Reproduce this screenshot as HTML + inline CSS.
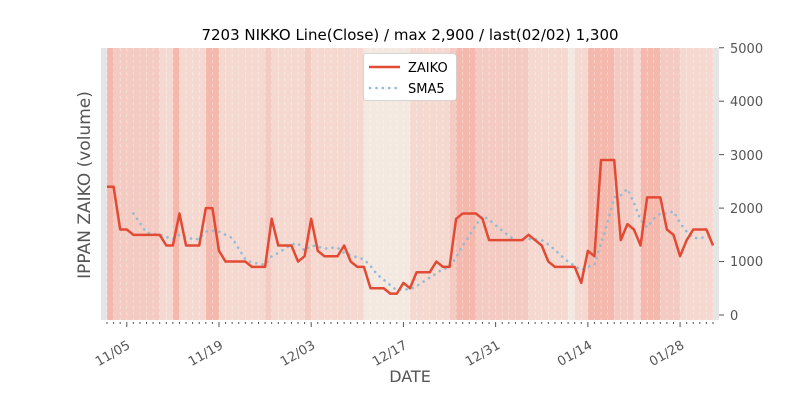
<!DOCTYPE html>
<html><head><meta charset="utf-8"><style>
body{margin:0;background:#fff;width:800px;height:400px;overflow:hidden;font-family:"Liberation Sans","DejaVu Sans",sans-serif}
svg text{font-family:"DejaVu Sans","Liberation Sans",sans-serif}
</style></head><body>
<svg id="s" width="800" height="400" xmlns="http://www.w3.org/2000/svg">
<rect x="101" y="48" width="618" height="272" fill="#e5e5e5"/>
<g id="bands"></g>
<g id="grid"></g>
<g id="ticks" stroke="#555" stroke-width="1"></g>
<polyline id="sma" fill="none" stroke="#92bcd4" stroke-width="2.6" stroke-dasharray="0.1,6.3" stroke-linecap="round"/>
<polyline id="line" fill="none" stroke="#e24a33" stroke-width="2.5" stroke-linejoin="round"/>
<text x="410" y="40" font-size="15" text-anchor="middle" fill="#000">7203 NIKKO Line(Close) / max 2,900 / last(02/02) 1,300</text>
<g font-size="13" fill="#555">
<text x="730" y="53">5000</text>
<text x="730" y="106">4000</text>
<text x="730" y="160">3000</text>
<text x="730" y="213">2000</text>
<text x="730" y="266">1000</text>
<text x="730" y="320">0</text>
</g>
<g font-size="13" fill="#555" text-anchor="end">
<text transform="translate(126,339) rotate(-30)" y="10">11/05</text>
<text transform="translate(219,339) rotate(-30)" y="10">11/19</text>
<text transform="translate(311,339) rotate(-30)" y="10">12/03</text>
<text transform="translate(403,339) rotate(-30)" y="10">12/17</text>
<text transform="translate(496,339) rotate(-30)" y="10">12/31</text>
<text transform="translate(588,339) rotate(-30)" y="10">01/14</text>
<text transform="translate(680,339) rotate(-30)" y="10">01/28</text>
</g>
<text x="410" y="382" font-size="16" fill="#555" text-anchor="middle">DATE</text>
<text transform="translate(90,185) rotate(-90)" font-size="17" fill="#555" text-anchor="middle">IPPAN ZAIKO (volume)</text>
<rect x="363.5" y="53.5" width="93" height="47" rx="3" fill="#fff" stroke="#ccc" stroke-width="0.8"/>
<line x1="369" y1="67" x2="400" y2="67" stroke="#e24a33" stroke-width="2.5"/>
<line x1="370" y1="88" x2="402" y2="88" stroke="#92bcd4" stroke-width="2.6" stroke-dasharray="0.1,6.3" stroke-linecap="round"/>
<text x="408" y="72" font-size="13" fill="#000">ZAIKO</text>
<text x="408" y="93" font-size="13" fill="#000">SMA5</text>
</svg>
<script>
var v=[2400,2400,1600,1600,1500,1500,1500,1500,1500,1300,1300,1900,1300,1300,1300,2000,2000,1200,1000,1000,1000,1000,900,900,900,1800,1300,1300,1300,1000,1100,1800,1200,1100,1100,1100,1300,1000,900,900,500,500,500,400,400,600,500,800,800,800,1000,900,900,1800,1900,1900,1900,1800,1400,1400,1400,1400,1400,1400,1500,1400,1300,1000,900,900,900,900,600,1200,1100,2900,2900,2900,1400,1700,1600,1300,2200,2200,2200,1600,1500,1100,1400,1600,1600,1600,1300];
var X=function(d){return 107+d*6.587},Y=function(a){return 315-a*0.05345};
var ns="http://www.w3.org/2000/svg";
function el(t,a,p){var e=document.createElementNS(ns,t);for(var k in a)e.setAttribute(k,a[k]);document.getElementById(p).appendChild(e);}
var lv=[3,2,2,2,2,2,2,2,1,1,3,1,1,1,1,3,3,1,1,1,1,1,1,1,2,1,1,1,1,1,2,1,1,1,1,1,1,1,1,0,0,0,0,0,0,0,1,1,1,1,1,1,2,3,3,3,2,2,2,2,2,2,2,2,1,1,1,1,1,1,0,1,1,3,3,3,3,2,2,2,1,3,3,3,2,2,2,1,1,1,1,1];
var cols=["#f3e9e1","#f5d9d1","#f4cbc2","#f4b8ad"];
for(var i=0;i<92;i++)el("rect",{x:X(i),y:48,width:6.7,height:272,fill:cols[lv[i]]},"bands");
for(var i=0;i<=92;i++){el("line",{x1:X(i),y1:48,x2:X(i),y2:320,stroke:"#fff","stroke-width":0.6,"stroke-dasharray":"3,3",opacity:0.6},"grid");
var mj=((i-3)%14==0);el("line",{x1:X(i),y1:322,x2:X(i),y2:mj?327:324},"ticks");}
[0,1000,2000,3000,4000,5000].forEach(function(a){el("line",{x1:719,y1:Y(a),x2:724,y2:Y(a)},"ticks")});
var p=[],q=[];
for(var i=0;i<v.length;i++){p.push(X(i)+","+Y(v[i]));if(i>=4){var s=0;for(var j=i-4;j<=i;j++)s+=v[j];q.push(X(i)+","+Y(s/5));}}
document.getElementById("line").setAttribute("points",p.join(" "));
document.getElementById("sma").setAttribute("points",q.join(" "));
</script>
</body></html>
